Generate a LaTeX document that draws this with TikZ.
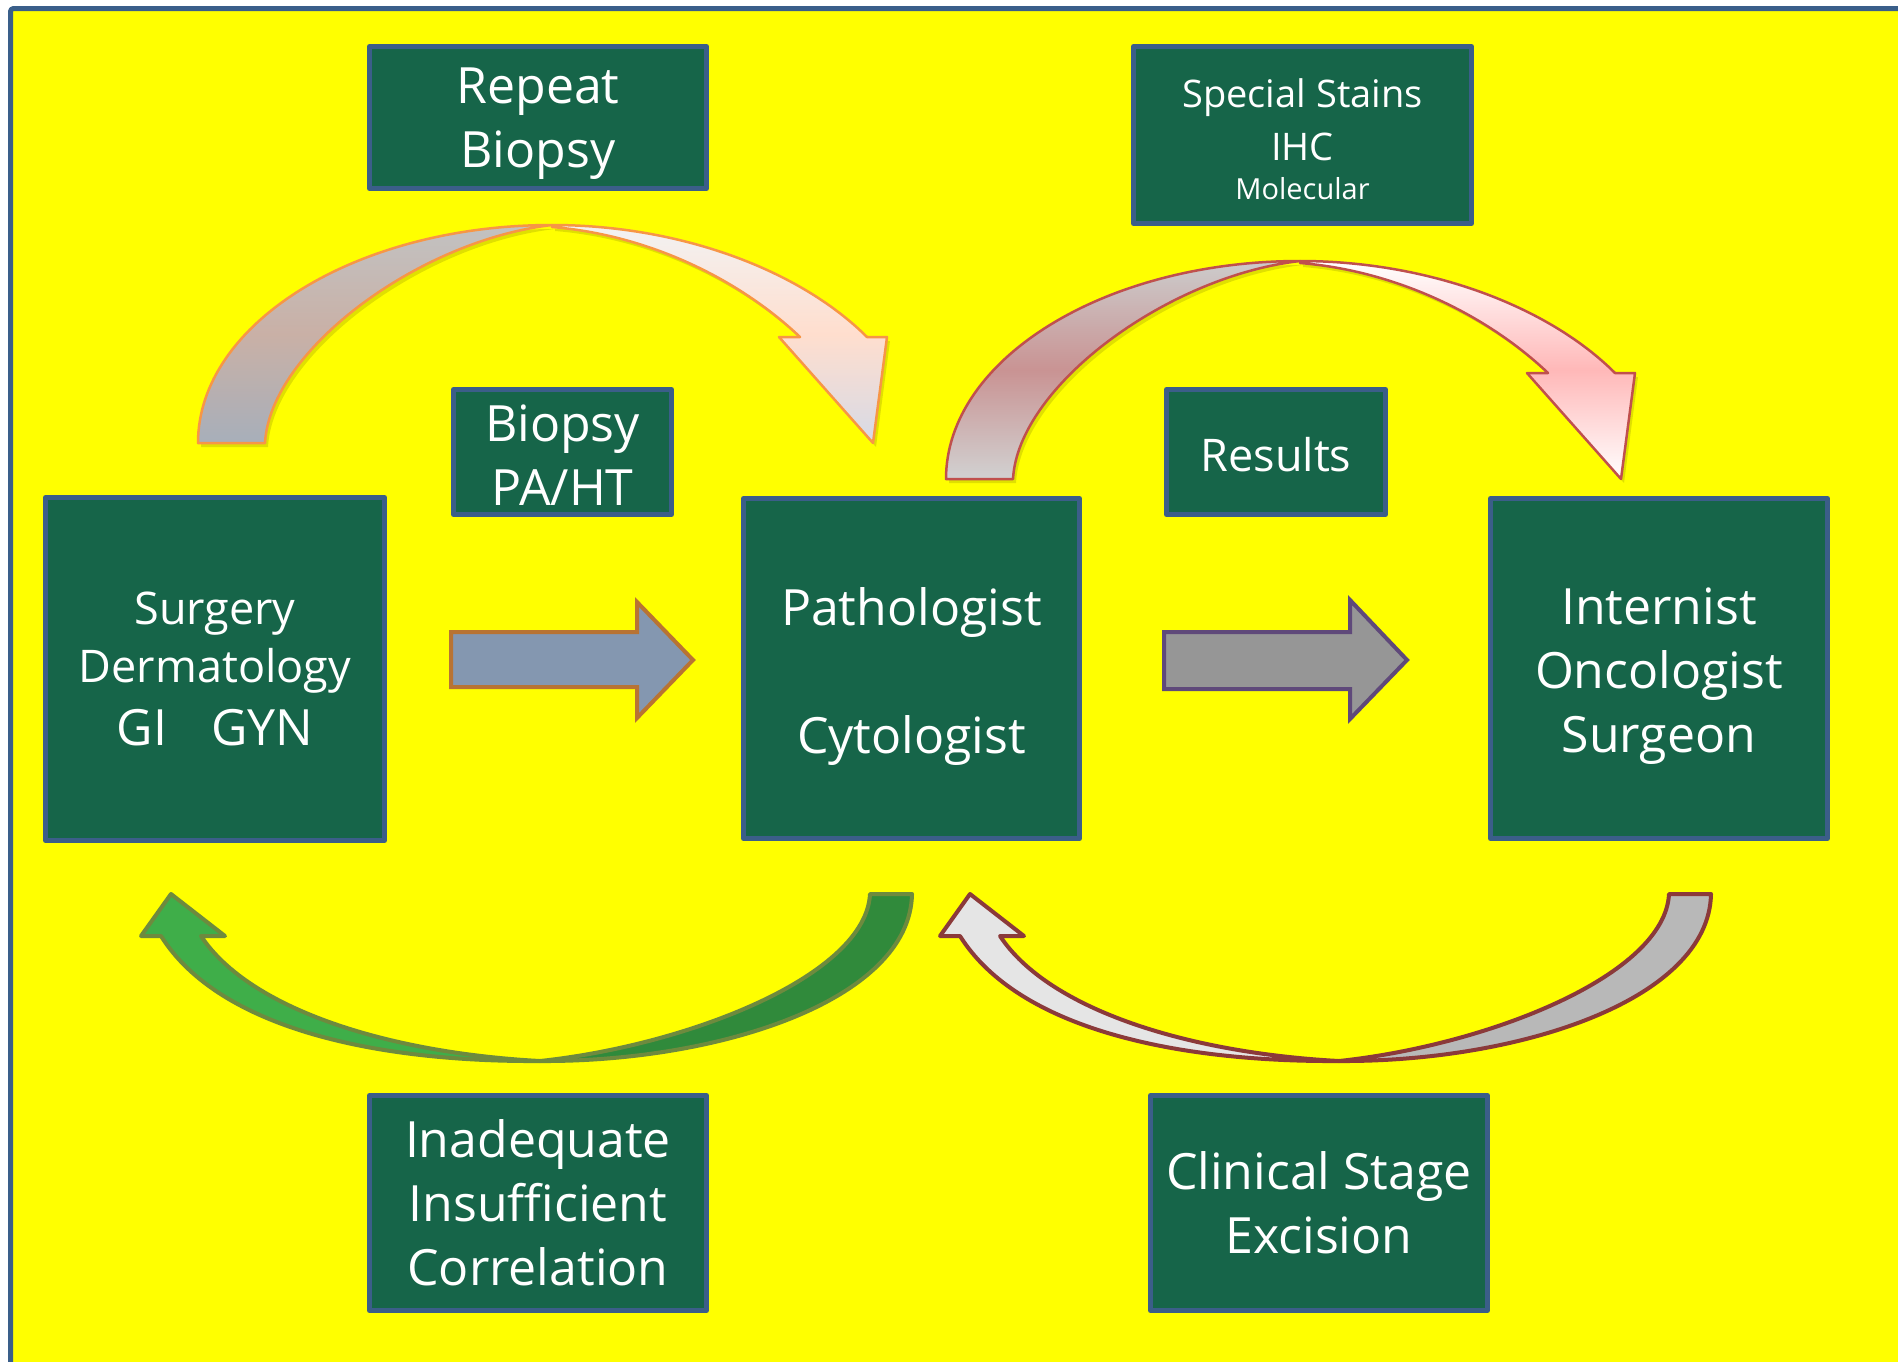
\documentclass[tikz,border=0pt]{standalone}
\usepackage{fontspec}
\setmainfont{Open Sans}
\usetikzlibrary{shadows}
\definecolor{bgyellow}{HTML}{FFFF00}
\definecolor{framecol}{HTML}{3A5F8A}
\definecolor{boxfill}{HTML}{166549}
\definecolor{boxline}{HTML}{3B5E89}
\definecolor{orangeln}{HTML}{F79646}
\definecolor{redln}{HTML}{C0504D}
\definecolor{oliveln}{HTML}{6E8A3E}
\definecolor{maroonln}{HTML}{8B3A3A}
\definecolor{tlmid}{RGB}{201,176,166}
\definecolor{tlbot}{RGB}{167,175,186}
\definecolor{trmid}{RGB}{255,222,206}
\definecolor{trbot}{RGB}{214,218,230}
\definecolor{rlmid}{RGB}{201,147,147}
\definecolor{rrmid}{RGB}{255,184,184}
\tikzset{
  box/.style={draw=boxline, line width=5pt, fill=boxfill, text=white, align=center, inner sep=0pt},
  bigtext/.style={font=\fontsize{50}{64}\selectfont},
  toparrow/.pic={
    \path[bandL, drop shadow={shadow xshift=3pt, shadow yshift=-4pt, opacity=0.12, fill=black}]
      (198,443) .. controls (198,323) and (357,225) .. (552,225)
      .. controls (420,240) and (270,350) .. (265,443) -- cycle;
    \path[bandR, drop shadow={shadow xshift=3pt, shadow yshift=-4pt, opacity=0.12, fill=black}]
      (552,225) .. controls (680,225) and (800,270) .. (867,337)
      -- (887,337) -- (873,443) -- (779,337) -- (800,337)
      .. controls (740,280) and (650,235) .. (552,227) -- cycle;
  },
  botarrow/.pic={
    \path[bandT] (912,894) .. controls (910,1000) and (720,1062) .. (540,1061)
      .. controls (690,1045) and (866,975) .. (870,894) -- cycle;
    \path[bandH] (201,936) -- (225,936) -- (171,894) -- (141,936) -- (161,936)
      .. controls (220,1030) and (380,1062) .. (540,1061)
      .. controls (390,1053) and (250,1010) .. (201,936) -- cycle;
  }
}
\begin{document}
\begin{tikzpicture}[x=1pt, y=-1pt, line join=round]
\useasboundingbox (0,0) rectangle (1898,1361);
\clip (0,0) rectangle (1898,1361);
\fill[white] (0,0) rectangle (1898,1361);
\filldraw[fill=bgyellow, draw=framecol, line width=5pt, rounded corners=3pt] (10.5,8.5) rectangle (1930,1390);

% top curved arrows
\begin{scope}[
  bandL/.style={draw=orangeln, line width=2.5pt, top color=black!24, bottom color=tlbot, middle color=tlmid},
  bandR/.style={draw=orangeln, line width=2.5pt, top color=black!5, bottom color=trbot, middle color=trmid}]
  \pic (arrRepeat) at (0,0) {toparrow};
\end{scope}
\begin{scope}[
  bandL/.style={draw=redln, line width=2.5pt, top color=black!20, bottom color=black!18, middle color=rlmid},
  bandR/.style={draw=redln, line width=2.5pt, top color=white, bottom color=white, middle color=rrmid}]
  \pic (arrStains) at (748,36) {toparrow};
\end{scope}

% bottom curved arrows
\begin{scope}[
  bandT/.style={draw=oliveln, line width=4pt, fill={rgb,255:red,48;green,138;blue,59}},
  bandH/.style={draw=oliveln, line width=4pt, fill={rgb,255:red,63;green,174;blue,73}}]
  \pic (arrInad) at (0,0) {botarrow};
\end{scope}
\begin{scope}[
  bandT/.style={draw=maroonln, line width=4pt, fill=black!28},
  bandH/.style={draw=maroonln, line width=4pt, fill=black!10}]
  \pic (arrClin) at (799,0) {botarrow};
\end{scope}

% straight block arrows
\draw[line width=4pt, line join=miter, draw={rgb,255:red,184;green,115;blue,51}, fill={rgb,255:red,132;green,151;blue,176}]
  (451,632) -- (637,632) -- (637,602) -- (693,660) -- (637,718) -- (637,687) -- (451,687) -- cycle;
\draw[line width=4pt, line join=miter, draw={rgb,255:red,95;green,73;blue,122}, fill=black!41]
  (1164,632) -- (1350,632) -- (1350,600) -- (1407,660) -- (1350,719) -- (1350,689) -- (1164,689) -- cycle;

% boxes
\node[box, bigtext, minimum width=337pt, minimum height=142pt] (repeat) at (538,117.5) {\rule{0pt}{48pt}Repeat\\Biopsy};
\node[box, minimum width=338pt, minimum height=177pt, font=\fontsize{38}{53}\selectfont] (stains) at (1302.5,135)
  {\rule{0pt}{37pt}Special Stains\\IHC\\[-14pt]{\fontsize{29}{35}\selectfont Molecular}};
\node[box, bigtext, minimum width=218pt, minimum height=125pt] (biopsy) at (562.5,452) {\rule{0pt}{42pt}Biopsy\\PA/HT};
\node[box, minimum width=219pt, minimum height=125pt, font=\fontsize{45}{58}\selectfont] (results) at (1276,452) {\rule{0pt}{39pt}Results};
\node[box, minimum width=339pt, minimum height=343pt, font=\fontsize{45}{58}\selectfont] (surgery) at (215,669)
  {Surgery\\Dermatology\\[5pt]{\fontsize{50}{58}\selectfont GI\hspace{44pt}GYN}};
\node[box, bigtext, minimum width=336pt, minimum height=340pt] (path) at (911.5,668.5) {\rule{0pt}{54pt}Pathologist\\[64pt]Cytologist};
\node[box, bigtext, minimum width=337pt, minimum height=340pt] (intern) at (1659,668.5) {\rule{0pt}{52pt}Internist\\Oncologist\\Surgeon};
\node[box, bigtext, minimum width=337pt, minimum height=215pt] (inad) at (538,1203) {Inadequate\\Insufficient\\Correlation};
\node[box, bigtext, minimum width=337pt, minimum height=215pt] (clin) at (1319,1203) {Clinical Stage\\Excision};
\end{tikzpicture}
\end{document}
